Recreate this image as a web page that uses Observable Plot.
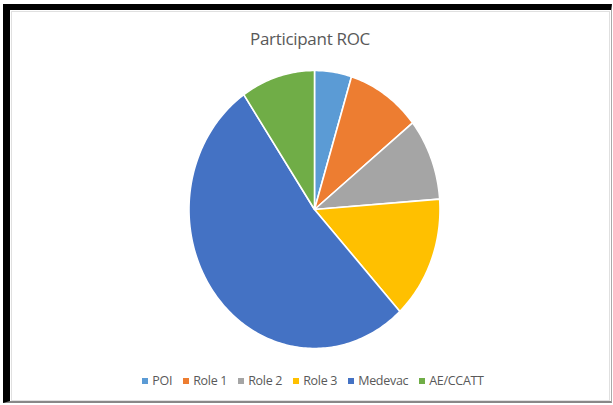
<!DOCTYPE html>
<html>
<head>
<meta charset="utf-8">
<script src="https://cdn.jsdelivr.net/npm/d3@7"></script>
<script src="https://cdn.jsdelivr.net/npm/@observablehq/plot@0.6"></script>
<style>
  html, body { margin: 0; padding: 0; background: #fff; }
  #page { position: relative; width: 613px; height: 405px; overflow: hidden; background: #fff; }
  #frame { position: absolute; left: 3px; top: 4px; width: 601px; height: 391px;
           border-left: 7px solid #000; border-top: 6px solid #000;
           border-right: 1px solid #aaa; border-bottom: 2px solid #888; }
  #inner { position: absolute; left: 11px; top: 11px; width: 599px; height: 390px; border: 1px solid #e0e0e0; box-sizing: border-box; }
  #title { position: absolute; left: 0; width: 620px; top: 27px; text-align: center;
           font-family: "Open Sans", sans-serif; font-size: 17px; color: #595959; letter-spacing: -0.3px; }
  #chart { position: absolute; left: 0; top: 0; }
  #legend { position: absolute; left: 0; width: 626px; top: 372px; display: flex; justify-content: center; gap: 11px;
            font-family: "Open Sans", sans-serif; font-size: 12.5px; color: #595959; letter-spacing: -0.3px; }
  .item { display: flex; align-items: center; gap: 4px; }
  .sw { width: 6px; height: 6px; display: inline-block; }
</style>
</head>
<body>
<div id="page">
  <div id="frame"></div>
  <div id="inner"></div>
  <div id="chart"></div>
  <div id="title">Participant ROC</div>
  <div id="legend"></div>
</div>
<script>
const categories = ["POI", "Role 1", "Role 2", "Role 3", "Medevac", "AE/CCATT"];
const values = [2, 4, 4, 6, 22, 4];
const colors = ["#5B9BD5", "#ED7D31", "#A5A5A5", "#FFC000", "#4472C4", "#70AD47"];

const data = categories.map((name, i) => ({name, value: values[i]}));
const arcs = d3.pie().value(d => d.value).sort(null)(data);

// Build slice outlines from pie angles (unit circle), mapped via Plot scales
const pts = [];
for (const a of arcs) {
  const name = a.data.name;
  pts.push({name, x: 0, y: 0});
  const n = Math.max(2, Math.ceil((a.endAngle - a.startAngle) / (Math.PI / 180)));
  for (let k = 0; k <= n; k++) {
    const t = a.startAngle + (a.endAngle - a.startAngle) * k / n;
    pts.push({name, x: Math.sin(t), y: Math.cos(t)});
  }
}

const chart = Plot.plot({
  width: 613,
  height: 405,
  margin: 0,
  x: {domain: [-1, 1], range: [188.5, 439.5], axis: null},
  y: {domain: [-1, 1], range: [348, 70], axis: null},
  color: {domain: categories, range: colors},
  style: {background: "transparent"},
  marks: [
    Plot.line(pts, {x: "x", y: "y", z: "name", fill: "name", stroke: "white", strokeWidth: 1.6, strokeLinejoin: "round", curve: "linear-closed"})
  ]
});
document.getElementById("chart").appendChild(chart);

const legend = document.getElementById("legend");
categories.forEach((c, i) => {
  const it = document.createElement("div");
  it.className = "item";
  const sw = document.createElement("span");
  sw.className = "sw";
  sw.style.background = colors[i];
  const tx = document.createElement("span");
  tx.textContent = c;
  it.appendChild(sw); it.appendChild(tx);
  legend.appendChild(it);
});
</script>
</body>
</html>
